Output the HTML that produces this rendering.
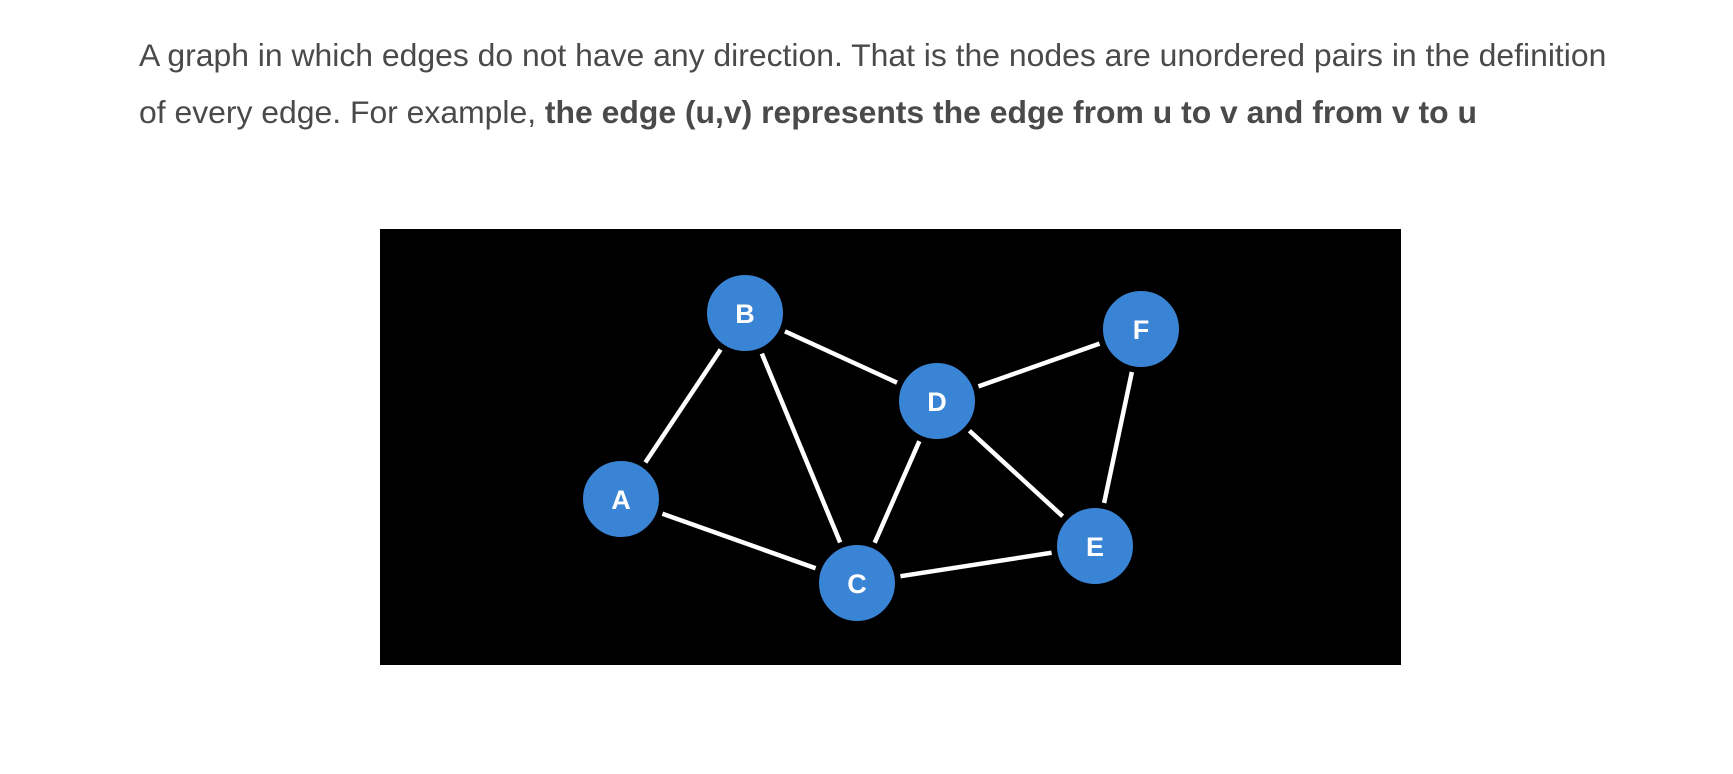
<!DOCTYPE html>
<html><head><meta charset="utf-8"><style>
html,body{margin:0;padding:0;background:#fff;width:1733px;height:774px;overflow:hidden}
p{position:absolute;left:139px;top:27px;margin:0;width:1580px;font-family:"Liberation Sans",sans-serif;font-size:31.9px;line-height:57px;color:#4a4a4a;white-space:nowrap}
svg{position:absolute;left:0;top:0}
</style></head><body>
<p>A graph in which edges do not have any direction. That is the nodes are unordered pairs in the definition<br>of every edge. For example, <b>the edge (u,v) represents the edge from u to v and from v to u</b></p>
<svg width="1733" height="774">
<rect x="380" y="229" width="1021" height="436" fill="#000"/>
<g stroke="#fff" stroke-width="4.5">
<line x1="745" y1="313" x2="621" y2="499"/>
<line x1="745" y1="313" x2="857" y2="583"/>
<line x1="745" y1="313" x2="937" y2="401"/>
<line x1="621" y1="499" x2="857" y2="583"/>
<line x1="937" y1="401" x2="857" y2="583"/>
<line x1="937" y1="401" x2="1141" y2="329"/>
<line x1="937" y1="401" x2="1095" y2="546"/>
<line x1="1141" y1="329" x2="1095" y2="546"/>
<line x1="857" y1="583" x2="1095" y2="546"/>
</g>
<g fill="#3a84d5" stroke="#000" stroke-width="6">
<circle cx="745" cy="313" r="41"/>
<circle cx="1141" cy="329" r="41"/>
<circle cx="937" cy="401" r="41"/>
<circle cx="621" cy="499" r="41"/>
<circle cx="1095" cy="546" r="41"/>
<circle cx="857" cy="583" r="41"/>
</g>
<g fill="#fff" font-family="Liberation Sans,sans-serif" font-weight="bold" font-size="27" text-anchor="middle">
<text x="745" y="323">B</text>
<text x="1141" y="339">F</text>
<text x="937" y="411">D</text>
<text x="621" y="509">A</text>
<text x="1095" y="556">E</text>
<text x="857" y="593">C</text>
</g>
</svg>
</body></html>
